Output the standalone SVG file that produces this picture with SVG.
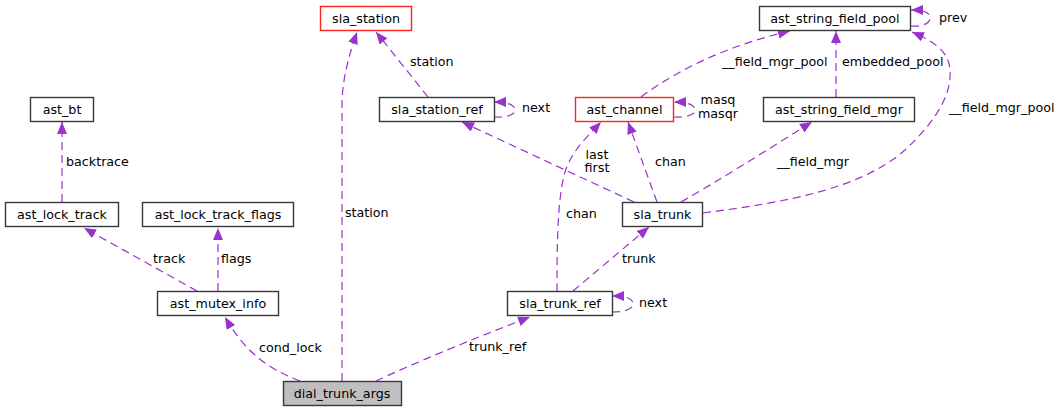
<svg xmlns="http://www.w3.org/2000/svg" width="1062" height="412" viewBox="0 0 1062 412">
<style>
  .node rect { fill: #ffffff; stroke: #383838; stroke-width: 1.4; }
  .node.red rect { stroke: #ff2020; }
  .node.main rect { fill: #bfbfbf; }
  text { font-family: "DejaVu Sans", "Liberation Sans", sans-serif; font-size: 12.7px; fill: #000000; }
  .node text { text-anchor: middle; }
  .edge { fill: none; stroke: #9a32cd; stroke-width: 1.2; stroke-dasharray: 8,5; marker-end: url(#arrow); }
</style>
<defs>
  <marker id="arrow" markerUnits="userSpaceOnUse" markerWidth="13" markerHeight="10" refX="12" refY="5" orient="auto">
    <path d="M0,0 L12,5 L0,10 z" fill="#9a32cd" stroke="none"/>
  </marker>
</defs>
<rect width="1062" height="412" fill="#ffffff"/>
<g id="connectors">
  <path class="edge" d="M342,381 V105 C342,80 349,55 357,32"/>
  <path class="edge" d="M300,381 C268,369 245,352 225,317"/>
  <path class="edge" d="M197,291 L84,228"/>
  <path class="edge" d="M218,291 V228"/>
  <path class="edge" d="M62,202 V122"/>
  <path class="edge" d="M376,381 C410,365 470,340 530,317"/>
  <path class="edge" d="M573,291 L649,227"/>
  <path class="edge" d="M612,312 C625,312 633,309 633,304 C633,299 628,296 612,296"/>
  <path class="edge" d="M557,291 C557,250 557,200 565,172 C572,150 588,136 601,122"/>
  <path class="edge" d="M634,202 L462,122"/>
  <path class="edge" d="M657,202 L628,122"/>
  <path class="edge" d="M681,202 C720,180 770,148 812,122"/>
  <path class="edge" d="M703,213 C780,203 860,190 905,150 C935,122 952,95 950,70 C949,52 935,42 912,32"/>
  <path class="edge" d="M836,97 V31"/>
  <path class="edge" d="M641,97 C680,68 730,45 790,31"/>
  <path class="edge" d="M674,117 C688,118 695,114 695,110 C695,105 688,102 674,102"/>
  <path class="edge" d="M911,26 C925,27 930,22 930,18 C930,13 925,10 911,10"/>
  <path class="edge" d="M428,97 L376,32"/>
  <path class="edge" d="M494,117 C508,118 515,114 515,110 C515,105 508,102 494,102"/>
  <g id="edge-labels">
    <text x="345" y="217">station</text>
    <text x="259" y="352">cond_lock</text>
    <text x="153" y="263">track</text>
    <text x="221" y="263">flags</text>
    <text x="66" y="166">backtrace</text>
    <text x="469" y="351">trunk_ref</text>
    <text x="622" y="263">trunk</text>
    <text x="639" y="307">next</text>
    <text x="566" y="218">chan</text>
    <text x="597" y="159" text-anchor="middle">last</text>
    <text x="597" y="172" text-anchor="middle">first</text>
    <text x="655" y="166">chan</text>
    <text x="777" y="166">__field_mgr</text>
    <text x="949" y="112">__field_mgr_pool</text>
    <text x="842" y="66">embedded_pool</text>
    <text x="722" y="66">__field_mgr_pool</text>
    <text x="718" y="104" text-anchor="middle">masq</text>
    <text x="718" y="118" text-anchor="middle">masqr</text>
    <text x="939" y="22">prev</text>
    <text x="410" y="66">station</text>
    <text x="522" y="112">next</text>
  </g>
</g>
<g id="sla_station" class="node red"><rect x="320.5" y="6.5" width="91" height="24"/><text x="366" y="23">sla_station</text></g>
<g id="ast_bt" class="node"><rect x="30.5" y="97.5" width="63" height="24"/><text x="62" y="114">ast_bt</text></g>
<g id="ast_lock_track" class="node"><rect x="5.5" y="202.5" width="113" height="24"/><text x="62" y="219">ast_lock_track</text></g>
<g id="ast_lock_track_flags" class="node"><rect x="142.5" y="202.5" width="151" height="24"/><text x="218" y="219">ast_lock_track_flags</text></g>
<g id="ast_mutex_info" class="node"><rect x="157.5" y="291.5" width="121" height="24"/><text x="218" y="308">ast_mutex_info</text></g>
<g id="dial_trunk_args" class="node main"><rect x="283.5" y="381.5" width="118" height="24"/><text x="342" y="398">dial_trunk_args</text></g>
<g id="sla_station_ref" class="node"><rect x="379.5" y="97.5" width="115" height="24"/><text x="437" y="114">sla_station_ref</text></g>
<g id="ast_channel" class="node red"><rect x="575.5" y="97.5" width="98" height="24"/><text x="624.5" y="114">ast_channel</text></g>
<g id="ast_string_field_pool" class="node"><rect x="759.5" y="6.5" width="151" height="24"/><text x="835" y="23">ast_string_field_pool</text></g>
<g id="ast_string_field_mgr" class="node"><rect x="763.5" y="97.5" width="151" height="24"/><text x="839" y="114">ast_string_field_mgr</text></g>
<g id="sla_trunk" class="node"><rect x="622.5" y="202.5" width="80" height="24"/><text x="662.5" y="219">sla_trunk</text></g>
<g id="sla_trunk_ref" class="node"><rect x="507.5" y="291.5" width="105" height="24"/><text x="560" y="308">sla_trunk_ref</text></g>
</svg>
